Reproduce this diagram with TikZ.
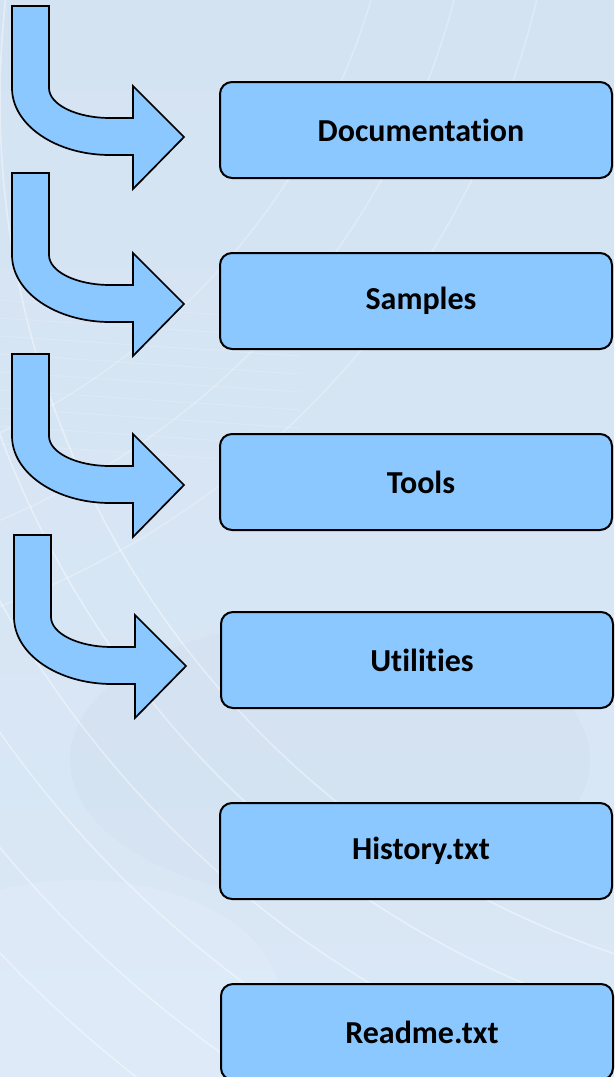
\documentclass[tikz,border=0pt]{standalone}
\usepackage{fontspec}
\setmainfont{Carlito}[Ligatures=NoCommon]
\definecolor{boxfill}{RGB}{138,200,255}
\definecolor{bgtop}{RGB}{212,227,242}
\definecolor{bgbot}{RGB}{218,232,246}
\definecolor{bgmid}{RGB}{206,218,236}
\tikzset{
  boxstyle/.style={draw=black, line width=2pt, fill=boxfill, rounded corners=12pt,
    minimum width=392pt, minimum height=96pt, inner sep=0pt,
    font=\fontsize{32}{38}\selectfont\bfseries,
    execute at begin node={\hspace*{10pt}}},
  arrowshape/.style={draw=black, line width=1.7pt, fill=boxfill, line join=miter},
  bgline/.style={draw=white, line width=1.6pt, opacity=0.4}
}
\newcommand\bentarrow[2]{%
  \begin{scope}[shift={(#1,#2)}]
    \draw[arrowshape] (12,0) -- (49,0) -- (49,82)
      .. controls (49,98.6) and (76.3,112) .. (110,112) -- (133,112) -- (133,80)
      -- (184,131) -- (133,183) -- (133,149) -- (110,149)
      .. controls (55.9,149) and (12,119) .. (12,82) -- cycle;
  \end{scope}}
\begin{document}
\begin{tikzpicture}[x=1pt,y=-1pt]
  \useasboundingbox (0,0) rectangle (614,1077);
  % background
  \shade[top color=bgtop, bottom color=bgbot] (0,0) rectangle (614,1077);
  \begin{scope}
    \clip (0,0) rectangle (614,1077);
    \fill[bgmid, opacity=0.3] (330,760) ellipse (260 and 140);
    \fill[white, opacity=0.12] (80,1000) ellipse (200 and 120);
    \foreach \r in {900,960,1030,1100,1170,1240}
      \draw[bgline] (900,100) circle (\r);
    \foreach \r in {700,780,860}
      \draw[bgline, opacity=0.25] (-300,-200) circle (\r);
    \foreach \y in {300,318,336,354,372,390,408,426,444}
      \draw[white, opacity=0.15, line width=1pt] (0,\y) -- (300,\y+20);
  \end{scope}
  % arrows
  \bentarrow{0}{6}
  \bentarrow{0}{173}
  \bentarrow{0}{354}
  \bentarrow{2}{535}
  % boxes
  \node[boxstyle] (doc) at (416,130) {Documentation};
  \node[boxstyle] (samples) at (416,301) {Samples};
  \node[boxstyle] (tools) at (416,482) {Tools};
  \node[boxstyle] (util) at (417,660) {Utilities};
  \node[boxstyle] (hist) at (416,851) {History.txt};
  \node[boxstyle] (readme) at (417,1032) {Readme.txt};
\end{tikzpicture}
\end{document}
